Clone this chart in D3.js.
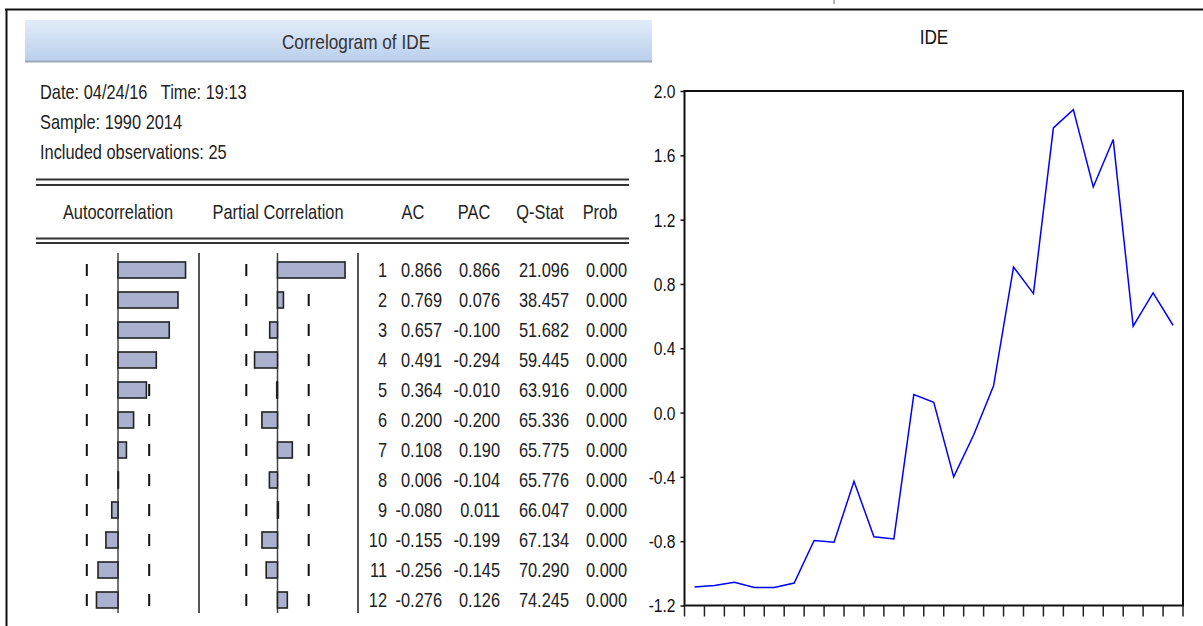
<!DOCTYPE html>
<html>
<head>
<meta charset="utf-8">
<script src="https://cdn.jsdelivr.net/npm/d3@7"></script>
<style>
  body { margin: 0; background: #fff; }
  svg { display: block; }
  text { font-family: "Liberation Sans", Arial, sans-serif; }
</style>
</head>
<body>
<script>
// correlogram table
var lags = [1, 2, 3, 4, 5, 6, 7, 8, 9, 10, 11, 12];
var ac   = [0.866, 0.769, 0.657, 0.491, 0.364, 0.200, 0.108, 0.006, -0.080, -0.155, -0.256, -0.276];
var pac  = [0.866, 0.076, -0.100, -0.294, -0.010, -0.200, 0.190, -0.104, 0.011, -0.199, -0.145, 0.126];
var qstat = ["21.096", "38.457", "51.682", "59.445", "63.916", "65.336", "65.775", "65.776", "66.047", "67.134", "70.290", "74.245"];
var prob = ["0.000", "0.000", "0.000", "0.000", "0.000", "0.000", "0.000", "0.000", "0.000", "0.000", "0.000", "0.000"];
var headers = ["Autocorrelation", "Partial Correlation", "AC", "PAC", "Q-Stat", "Prob"];
var infoLines = ["Date: 04/24/16   Time: 19:13", "Sample: 1990 2014", "Included observations: 25"];
var nObs = 25;

// IDE series, 1990-2014
var years = d3.range(1990, 2015);
var ide = [-1.085, -1.076, -1.055, -1.088, -1.088, -1.060, -0.796, -0.807, -0.427, -0.773, -0.786,
           0.112, 0.064, -0.400, -0.140, 0.166, 0.905, 0.740, 1.770, 1.884, 1.403, 1.698, 0.537, 0.744, 0.543];
var yTicks = [-1.2, -0.8, -0.4, 0.0, 0.4, 0.8, 1.2, 1.6, 2.0];

var width = 1203, height = 626;
var NARROW = 0.82; // no Arial Narrow installed, squeeze Liberation Sans instead

var svg = d3.select("body").append("svg").attr("width", width).attr("height", height);

// place text with a horizontal squeeze
function narrow(sel, xf, yf) {
  sel.attr("x", 0).attr("y", 0)
    .attr("transform", function(d, i) {
      var xx = typeof xf === "function" ? xf(d, i) : xf;
      var yy = typeof yf === "function" ? yf(d, i) : yf;
      return "translate(" + xx + "," + yy + ") scale(" + NARROW + ",1)";
    });
  return sel;
}

// outer frame lines
svg.append("line").attr("x1", 5).attr("x2", width).attr("y1", 9.5).attr("y2", 9.5)
  .style("stroke", "#111").style("stroke-width", 2);
svg.append("line").attr("x1", 6.5).attr("x2", 6.5).attr("y1", 9).attr("y2", height)
  .style("stroke", "#111").style("stroke-width", 2);
svg.append("line").attr("x1", 834).attr("x2", 834).attr("y1", 0).attr("y2", 4)
  .style("stroke", "#666").style("stroke-width", 1);

// ---------- left panel: correlogram ----------
var defs = svg.append("defs");
var grad = defs.append("linearGradient").attr("id", "bar").attr("x1", 0).attr("y1", 0).attr("x2", 0).attr("y2", 1);
grad.append("stop").attr("offset", "0%").attr("stop-color", "#e2ecf8");
grad.append("stop").attr("offset", "100%").attr("stop-color", "#b9cfec");

svg.append("rect").attr("x", 25).attr("y", 20).attr("width", 627).attr("height", 42)
  .style("fill", "url(#bar)");
svg.append("line").attr("x1", 25).attr("x2", 652).attr("y1", 61.5).attr("y2", 61.5)
  .style("stroke", "#9ba8ba").style("stroke-width", 2);
narrow(svg.append("text"), 356, 49)
  .attr("text-anchor", "middle")
  .style("font-size", "21px").style("fill", "#333").text("Correlogram of IDE");

narrow(svg.selectAll(".info").data(infoLines).enter().append("text").attr("class", "info"),
    40, function(d, i) { return 99 + i * 30; })
  .attr("xml:space", "preserve")
  .style("font-size", "20px").style("fill", "#222")
  .text(function(d) { return d; });

// double rules
[179.5, 185, 238.5, 243].forEach(function(y) {
  svg.append("line").attr("x1", 36).attr("x2", 629).attr("y1", y).attr("y2", y)
    .style("stroke", "#333").style("stroke-width", 2);
});

var headerX = [118, 278, 413, 474, 540, 600];
narrow(svg.selectAll(".hdr").data(headers).enter().append("text").attr("class", "hdr"),
    function(d, i) { return headerX[i]; }, 219)
  .attr("text-anchor", "middle")
  .style("font-size", "20px").style("fill", "#222")
  .text(function(d) { return d; });

var rowY = d3.scalePoint().domain(lags).range([270, 600]);
var acX = d3.scaleLinear().domain([-1, 1]).range([118 - 78, 118 + 78]);
var pacX = d3.scaleLinear().domain([-1, 1]).range([277.5 - 78, 277.5 + 78]);
var bound = 2 / Math.sqrt(nObs);

var colTop = 253, colBottom = 613;
[[acX(0), "#444", 1.5], [199, "#555", 2], [pacX(0), "#444", 1.5], [358, "#555", 2]].forEach(function(c) {
  svg.append("line").attr("x1", c[0]).attr("x2", c[0]).attr("y1", colTop).attr("y2", colBottom)
    .style("stroke", c[1]).style("stroke-width", c[2]);
});

function drawBars(scale, values, cls) {
  // confidence bound dashes, one per row
  [-bound, bound].forEach(function(b) {
    svg.selectAll(".tick-" + cls + (b < 0 ? "n" : "p")).data(lags).enter().append("line")
      .attr("x1", scale(b)).attr("x2", scale(b))
      .attr("y1", function(d) { return rowY(d) - 6; })
      .attr("y2", function(d) { return rowY(d) + 6; })
      .style("stroke", "#111").style("stroke-width", 2);
  });
  svg.selectAll(".bar-" + cls).data(values).enter().append("rect")
    .attr("class", "bar-" + cls)
    .attr("x", function(d) { return Math.min(scale(0), scale(d)); })
    .attr("y", function(d, i) { return rowY(lags[i]) - 8; })
    .attr("width", function(d) { return Math.abs(scale(d) - scale(0)); })
    .attr("height", 16)
    .style("fill", "#a9b1cf")
    .style("stroke", "#222")
    .style("stroke-width", 1.6);
}
drawBars(acX, ac, "ac");
drawBars(pacX, pac, "pac");

var fmt = function(v) { return v.toFixed(3); };
var columns = [
  { x: 387, vals: lags.map(String) },
  { x: 442, vals: ac.map(fmt) },
  { x: 500, vals: pac.map(fmt) },
  { x: 569, vals: qstat },
  { x: 627, vals: prob }
];
columns.forEach(function(col, ci) {
  narrow(svg.selectAll(".col" + ci).data(col.vals).enter().append("text").attr("class", "col" + ci),
      col.x, function(d, i) { return rowY(lags[i]) + 7; })
    .attr("text-anchor", "end")
    .style("font-size", "20px").style("fill", "#222")
    .text(function(d) { return d; });
});

// ---------- right panel: IDE line ----------
var plot = { left: 684.5, right: 1183, top: 91, bottom: 605.5 };
var x = d3.scaleBand().domain(years).range([plot.left, plot.right]).padding(0);
var y = d3.scaleLinear().domain([-1.2, 2.0]).range([plot.bottom, plot.top]);

narrow(svg.append("text"), 934, 44).attr("text-anchor", "middle")
  .style("font-size", "21px").style("fill", "#111").text("IDE");

svg.append("rect").attr("x", plot.left).attr("y", plot.top)
  .attr("width", plot.right - plot.left).attr("height", plot.bottom - plot.top)
  .style("fill", "none").style("stroke", "#111").style("stroke-width", 2);

var yAxis = svg.append("g").attr("transform", "translate(" + plot.left + ",0)")
  .call(d3.axisLeft(y).tickValues(yTicks).tickSize(4).tickPadding(5)
    .tickFormat(function(d) { return d.toFixed(1); }));
yAxis.select(".domain").remove();
yAxis.selectAll("line").style("stroke", "#111").style("stroke-width", 1.5);
yAxis.selectAll("text")
  .attr("x", 0).attr("dy", "0.34em")
  .attr("transform", "translate(-9,0) scale(" + NARROW + ",1)")
  .style("font-size", "19px").style("fill", "#111")
  .style("font-family", "'Liberation Sans', Arial, sans-serif");

// x ticks at the year boundaries, no labels
var bounds = years.map(function(d) { return x(d); }).concat([plot.right]);
svg.selectAll(".xtick").data(bounds).enter().append("line")
  .attr("class", "xtick")
  .attr("x1", function(d) { return d; }).attr("x2", function(d) { return d; })
  .attr("y1", plot.bottom).attr("y2", plot.bottom + 11)
  .style("stroke", "#222").style("stroke-width", 1.5);

var line = d3.line()
  .x(function(d, i) { return x(years[i]) + x.bandwidth() / 2; })
  .y(function(d) { return y(d); });
svg.append("path").datum(ide).attr("d", line)
  .style("fill", "none").style("stroke", "#0000ff").style("stroke-width", 1.5);
</script>
</body>
</html>
